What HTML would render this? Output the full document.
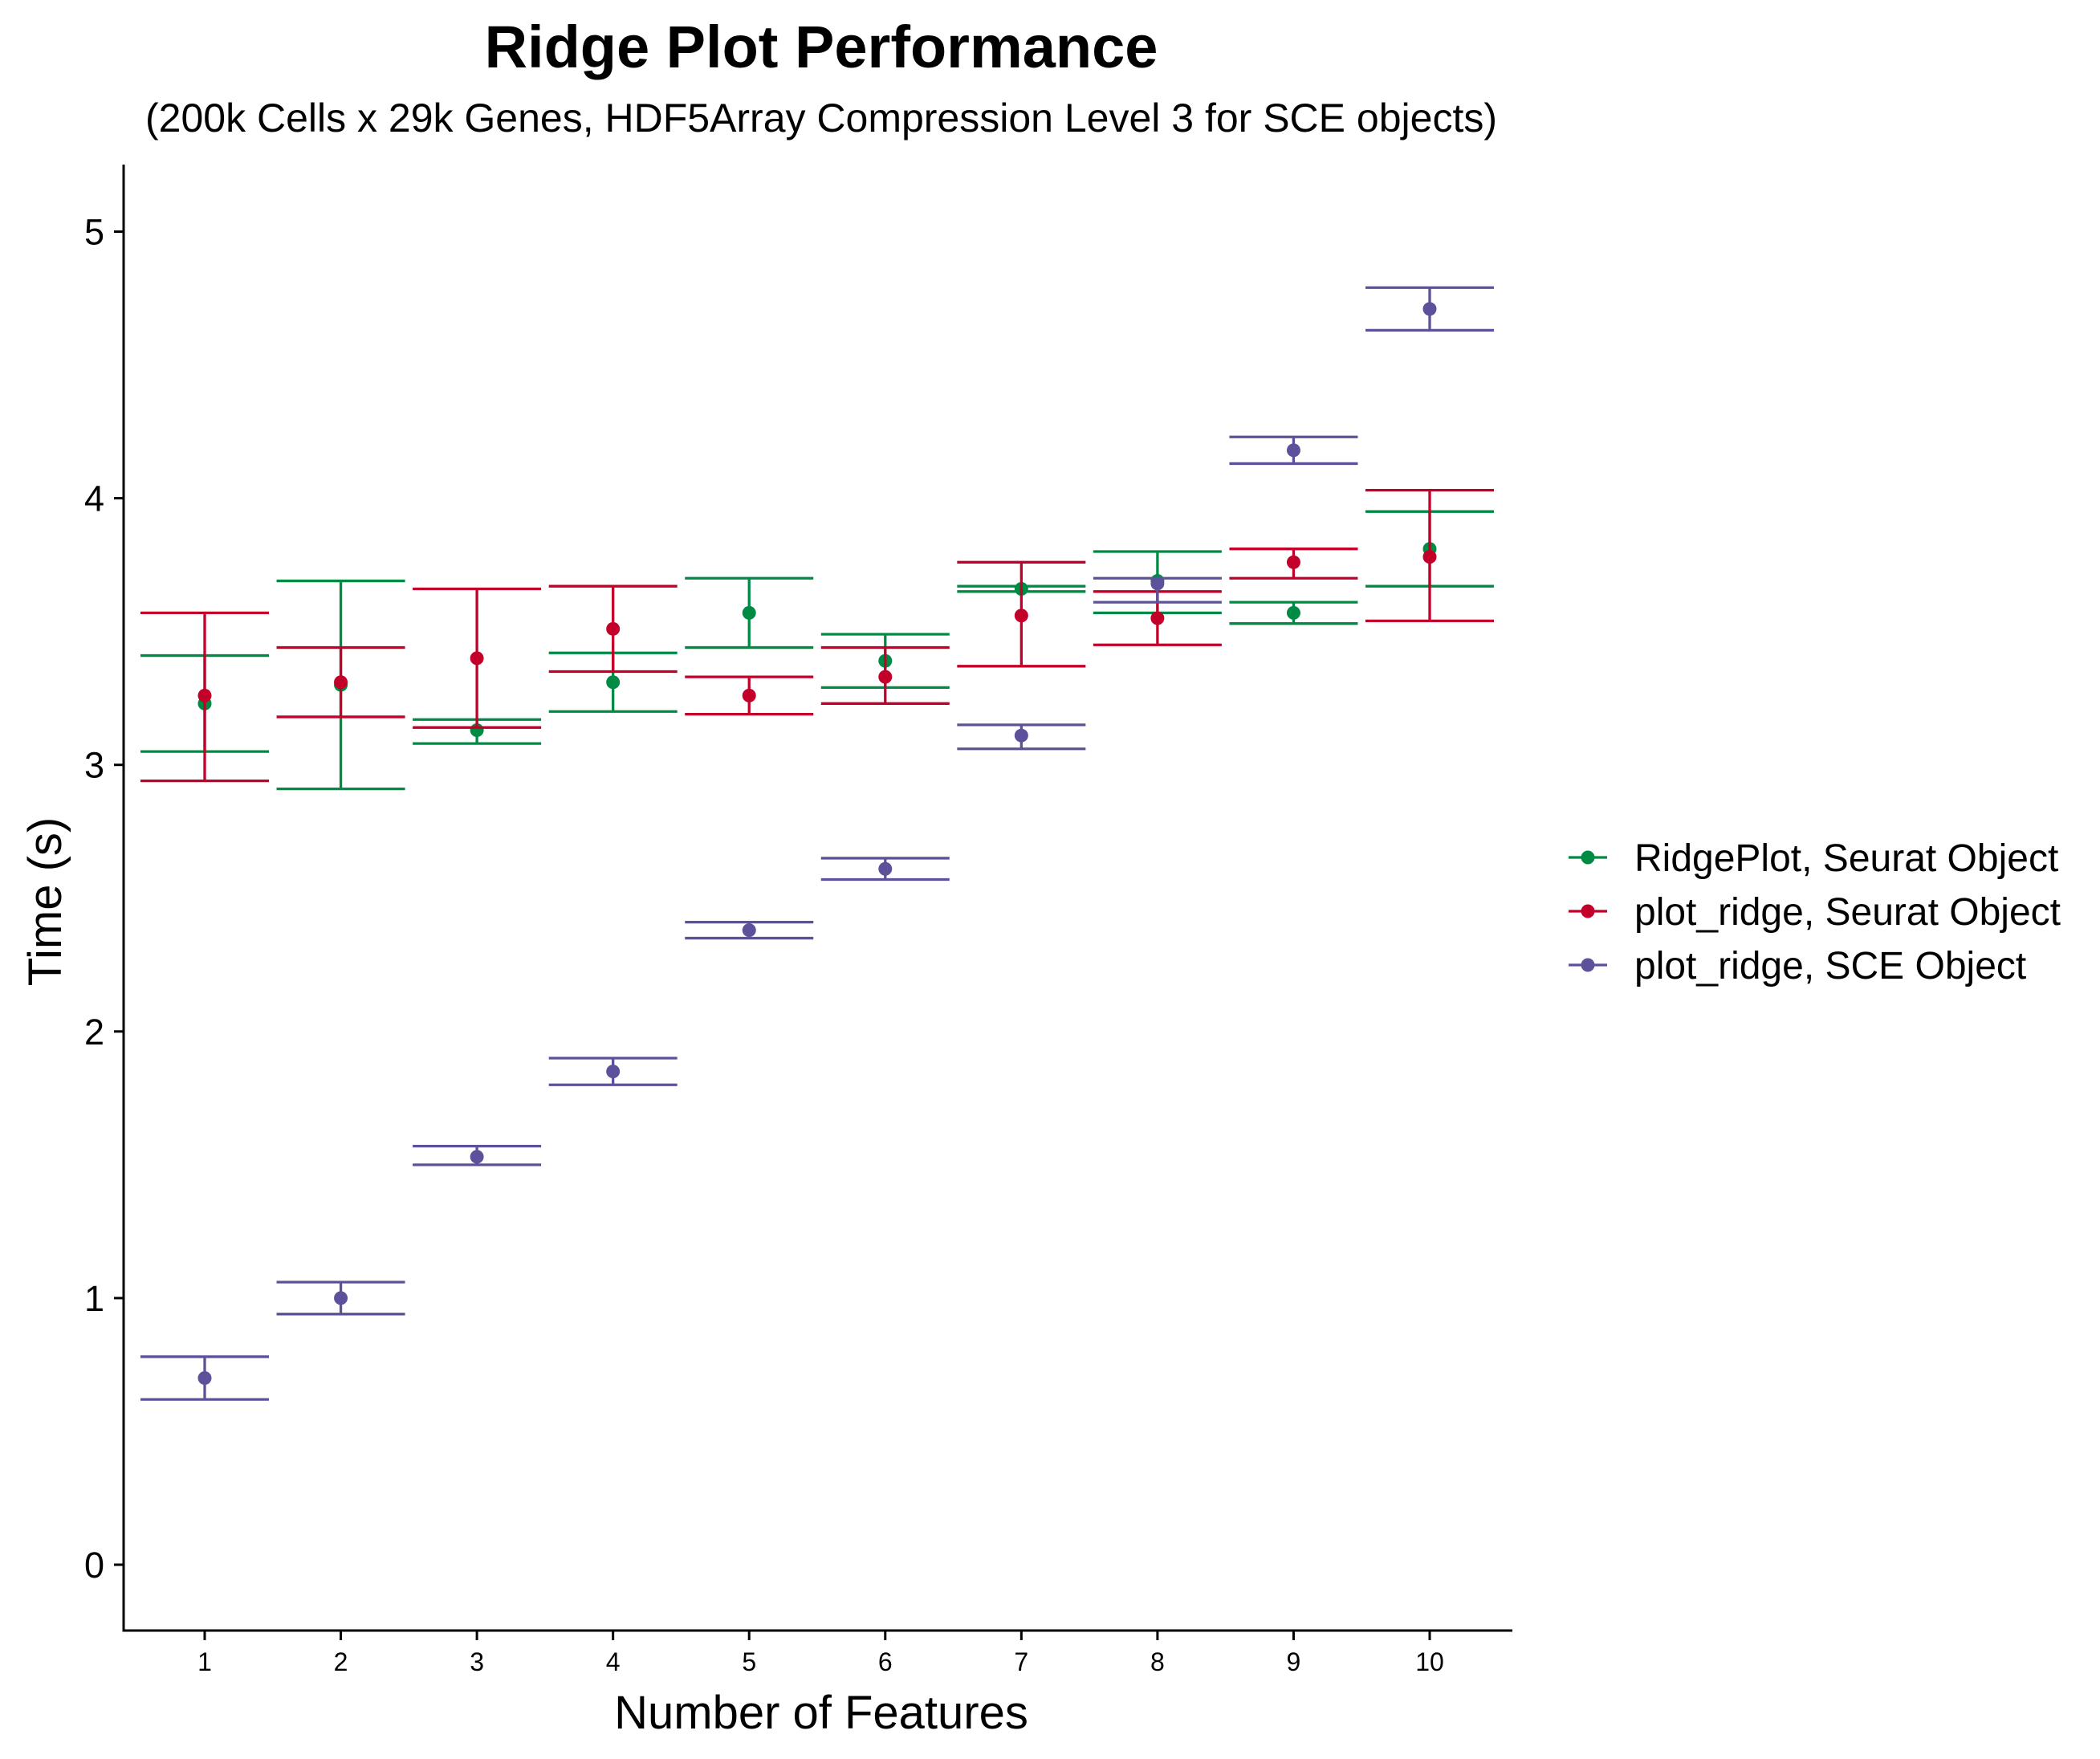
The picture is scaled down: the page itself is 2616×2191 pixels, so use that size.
<!DOCTYPE html>
<html><head><meta charset="utf-8"><style>
html,body{margin:0;padding:0;background:#fff;}
svg{display:block;font-family:"Liberation Sans",Arial,sans-serif;}
</style></head><body>
<svg id="chart" width="2616" height="2191" viewBox="0 0 2616 2191" xmlns="http://www.w3.org/2000/svg">
<rect width="2616" height="2191" fill="#fff"/>
<text x="1023" y="84" font-size="74" font-weight="bold" text-anchor="middle">Ridge Plot Performance</text>
<text x="1023" y="164" font-size="50" text-anchor="middle">(200k Cells x 29k Genes, HDF5Array Compression Level 3 for SCE objects)</text>
<g id="plot"></g>
<text x="1023" y="2153" font-size="58" text-anchor="middle">Number of Features</text>
<text transform="translate(76,1123) rotate(-90)" font-size="58" text-anchor="middle">Time (s)</text>
<g id="legend"></g>
</svg>
<script>
const categories=[1,2,3,4,5,6,7,8,9,10];
const seriesNames=["RidgePlot, Seurat Object","plot_ridge, Seurat Object","plot_ridge, SCE Object"];
const greenMean=[3.23,3.30,3.13,3.31,3.57,3.39,3.66,3.69,3.57,3.81];
const greenLow=[3.05,2.91,3.08,3.20,3.44,3.29,3.65,3.57,3.53,3.67];
const greenHigh=[3.41,3.69,3.17,3.42,3.70,3.49,3.67,3.80,3.61,3.95];
const redMean=[3.26,3.31,3.40,3.51,3.26,3.33,3.56,3.55,3.76,3.78];
const redLow=[2.94,3.18,3.14,3.35,3.19,3.23,3.37,3.45,3.70,3.54];
const redHigh=[3.57,3.44,3.66,3.67,3.33,3.44,3.76,3.65,3.81,4.03];
const purpleMean=[0.70,1.00,1.53,1.85,2.38,2.61,3.11,3.68,4.18,4.71];
const purpleLow=[0.62,0.94,1.50,1.80,2.35,2.57,3.06,3.61,4.13,4.63];
const purpleHigh=[0.78,1.06,1.57,1.90,2.41,2.65,3.15,3.70,4.23,4.79];
const yTicks=[0,1,2,3,4,5];
const colors=["#008B45","#C3002A","#5E519B"];
const series=[[greenMean,greenLow,greenHigh],[redMean,redLow,redHigh],[purpleMean,purpleLow,purpleHigh]];
const NS="http://www.w3.org/2000/svg";
const L=154,R=1884,T=205,B=2031;
const xS=v=>255+(v-1)*(1781-255)/9;
const yS=v=>1949-v*(1949-288.5)/5;
const plot=document.getElementById('plot');
function mk(tag,attrs,parent){const e=document.createElementNS(NS,tag);for(const k in attrs)e.setAttribute(k,attrs[k]);parent.appendChild(e);return e;}
let ax=mk('line',{x1:L,y1:T,x2:L,y2:B+1.5,stroke:'#000','stroke-width':3},plot);


ax=mk('line',{x1:L-1.5,y1:B,x2:R,y2:B,stroke:'#000','stroke-width':3},plot);


yTicks.forEach(t=>{
 const tk=mk('line',{x1:L-12,x2:L,y1:yS(t),y2:yS(t),stroke:'#000','stroke-width':3},plot);
 
 
 const tx=mk('text',{x:L-24,y:yS(t)+16,'font-size':45,'text-anchor':'end'},plot);
 
 
 tx.textContent=t;
});
categories.forEach(c=>{
 const tk=mk('line',{x1:xS(c),x2:xS(c),y1:B,y2:B+12,stroke:'#000','stroke-width':3},plot);
 
 
 const tx=mk('text',{x:xS(c),y:B+50,'font-size':32,'text-anchor':'middle'},plot);
 
 
 tx.textContent=c;
});
series.forEach((s,si)=>{
 const g=mk('g',{},plot);
 
 
 categories.forEach((c,i)=>{
  const x=xS(c),col=colors[si];
  const eb=mk('path',{d:`M${x-80},${yS(s[2][i])}H${x+80}M${x-80},${yS(s[1][i])}H${x+80}M${x},${yS(s[2][i])}V${yS(s[1][i])}`,stroke:col,'stroke-width':3.3,fill:'none'},g);
  
  
  const p=mk('circle',{cx:x,cy:yS(s[0][i]),r:8.5,fill:col},g);
  
  
 });
});
const lg=document.getElementById('legend');
seriesNames.forEach((n,i)=>{
 const y=1068+i*67;
 const g=mk('g',{},lg);
 
 
 mk('line',{x1:1954,x2:2002,y1:y,y2:y,stroke:colors[i],'stroke-width':3.3},g);
 mk('circle',{cx:1978,cy:y,r:8.5,fill:colors[i]},g);
 const t=mk('text',{x:2036,y:y+17,'font-size':48},g);
 t.textContent=n;
});
</script>
</body></html>
